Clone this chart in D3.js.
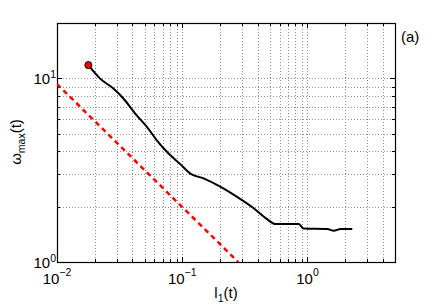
<!DOCTYPE html>
<html>
<head>
<meta charset="utf-8">
<script src="https://cdn.jsdelivr.net/npm/d3@7"></script>
<style>
  body { margin: 0; background: #fff; }
  text { font-family: "Liberation Sans", Arial, sans-serif; fill: #000; }
</style>
</head>
<body>
<div id="chart"></div>
<script>
// l1(t) and omega_max(t)
const lenVals = [0.0178, 0.0221, 0.0282, 0.0339, 0.0421, 0.0522, 0.0627, 0.0754, 0.0964,
  0.116, 0.148, 0.201, 0.274, 0.372, 0.476, 0.555, 0.852, 0.934, 1.44, 1.62, 1.84, 2.28];
const omegaVals = [11.8, 9.96, 8.79, 7.76, 6.43, 5.44, 4.60, 3.98, 3.41,
  3.03, 2.85, 2.57, 2.26, 1.96, 1.71, 1.61, 1.61, 1.52, 1.51, 1.48, 1.51, 1.51];

// reference slope line (red dashed)
const refX = [0.01, 0.28];
const refY = [9.3, 1];

const xMajor = [0.01, 0.1, 1];
const xExp = ["-2", "-1", "0"];
const yMajor = [1, 10];
const yExp = ["0", "1"];

const width = 436, height = 306;
const mLeft = 57, mRight = 395, mTop = 23, mBottom = 262;

const svg = d3.select("#chart").append("svg")
  .attr("width", width)
  .attr("height", height);

const x = d3.scaleLog().domain([0.01, 5]).range([mLeft, mRight]);
const y = d3.scaleLog().domain([1, 20]).range([mBottom, mTop]);

const xAll = x.ticks().filter(v => v > 0.01 && v < 5);
const yAll = y.ticks().filter(v => v > 1 && v < 20);
const isMajor = (arr, d) => arr.some(m => Math.abs(m - d) / m < 1e-6);

// grid
svg.append("g").selectAll("line")
  .data(xAll)
  .join("line")
  .attr("x1", d => Math.round(x(d)) + 0.5)
  .attr("x2", d => Math.round(x(d)) + 0.5)
  .attr("y1", mTop)
  .attr("y2", mBottom)
  .attr("stroke", "#8c8c8c")
  .attr("stroke-dasharray", "1,2");

svg.append("g").selectAll("line")
  .data(yAll)
  .join("line")
  .attr("y1", d => Math.round(y(d)) + 0.5)
  .attr("y2", d => Math.round(y(d)) + 0.5)
  .attr("x1", mLeft)
  .attr("x2", mRight)
  .attr("stroke", "#8c8c8c")
  .attr("stroke-dasharray", "1,2");

// ticks on all four sides, pointing in
const ticks = svg.append("g").attr("stroke", "#000").attr("shape-rendering", "crispEdges");
xAll.forEach(d => {
  const px = Math.round(x(d)) + 0.5;
  const len = isMajor(xMajor, d) ? 5 : 3;
  ticks.append("line").attr("x1", px).attr("x2", px).attr("y1", mBottom).attr("y2", mBottom - len);
  ticks.append("line").attr("x1", px).attr("x2", px).attr("y1", mTop).attr("y2", mTop + len);
});
yAll.forEach(d => {
  const py = Math.round(y(d)) + 0.5;
  const len = isMajor(yMajor, d) ? 5 : 3;
  ticks.append("line").attr("y1", py).attr("y2", py).attr("x1", mLeft).attr("x2", mLeft + len);
  ticks.append("line").attr("y1", py).attr("y2", py).attr("x1", mRight).attr("x2", mRight - len);
});

// box
svg.append("rect")
  .attr("x", mLeft + 0.5)
  .attr("y", mTop + 0.5)
  .attr("width", mRight - mLeft)
  .attr("height", mBottom - mTop)
  .attr("fill", "none")
  .attr("stroke", "#000")
  .attr("stroke-width", 1.2);

// tick labels
xMajor.forEach((d, i) => {
  const t = svg.append("text")
    .attr("x", x(d))
    .attr("y", 284)
    .attr("text-anchor", "middle")
    .style("font-size", "15px");
  t.append("tspan").text("10");
  t.append("tspan").attr("dy", -8).style("font-size", "10.5px").text(xExp[i].replace("-", "\u2212"));
});
yMajor.forEach((d, i) => {
  const t = svg.append("text")
    .attr("x", 56)
    .attr("y", y(d) + 6)
    .attr("text-anchor", "end")
    .style("font-size", "15px");
  t.append("tspan").text("10");
  t.append("tspan").attr("dy", -6).style("font-size", "10.5px").text(yExp[i]);
});

// axis labels
const xl = svg.append("text")
  .attr("x", 226)
  .attr("y", 298)
  .attr("text-anchor", "middle")
  .style("font-size", "15px");
xl.append("tspan").text("l");
xl.append("tspan").attr("dy", 4).style("font-size", "10.5px").text("1");
xl.append("tspan").attr("dy", -4).text("(t)");

const yl = svg.append("text")
  .attr("transform", "translate(21,142) rotate(-90)")
  .attr("text-anchor", "middle")
  .style("font-size", "15px");
yl.append("tspan").text("\u03c9");
yl.append("tspan").attr("dy", 4).style("font-size", "10.5px").text("max");
yl.append("tspan").attr("dy", -4).text("(t)");

svg.append("text")
  .attr("x", 401)
  .attr("y", 42)
  .style("font-size", "15px")
  .text("(a)");

// data lines
svg.append("clipPath").attr("id", "clip")
  .append("rect").attr("x", mLeft).attr("y", mTop)
  .attr("width", mRight - mLeft).attr("height", mBottom - mTop);

const line = d3.line().x(d => x(d[0])).y(d => y(d[1]));

svg.append("path")
  .datum(refX.map((v, i) => [v, refY[i]]))
  .attr("clip-path", "url(#clip)")
  .attr("d", line)
  .attr("fill", "none")
  .attr("stroke", "#ff0000")
  .attr("stroke-width", 2.5)
  .attr("stroke-dasharray", "5,4");

svg.append("path")
  .datum(lenVals.map((v, i) => [v, omegaVals[i]]))
  .attr("d", line.curve(d3.curveMonotoneX))
  .attr("fill", "none")
  .attr("stroke", "#000")
  .attr("stroke-width", 2)
  .attr("stroke-linejoin", "round");

svg.append("circle")
  .attr("cx", x(lenVals[0]))
  .attr("cy", y(omegaVals[0]))
  .attr("r", 3.5)
  .attr("fill", "#ff0000")
  .attr("stroke", "#000")
  .attr("stroke-width", 1);
</script>
</body>
</html>
